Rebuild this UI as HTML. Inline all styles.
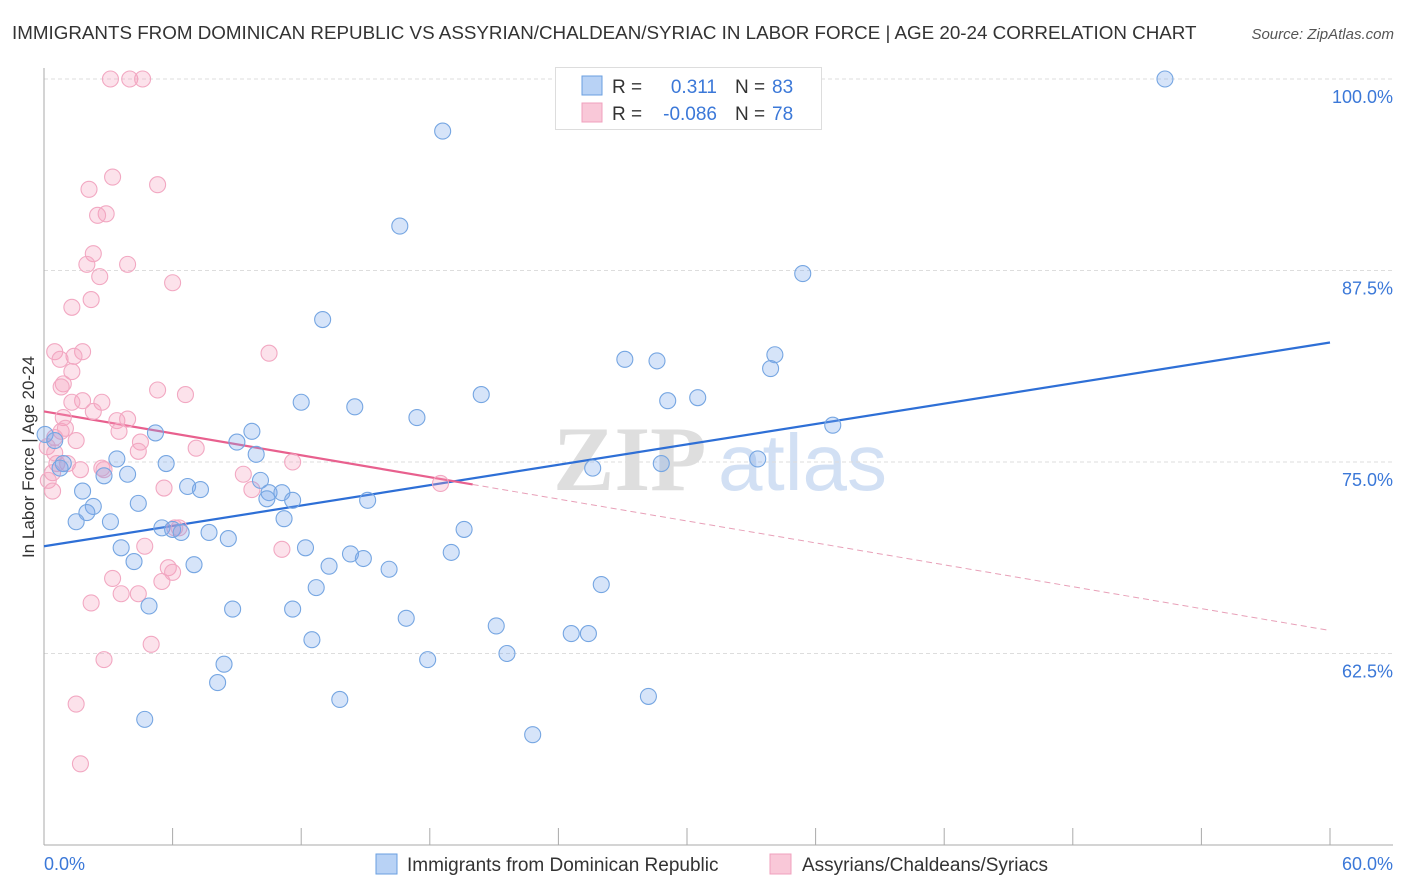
<!DOCTYPE html>
<html><head><meta charset="utf-8">
<style>
body{margin:0;background:#fff;font-family:"Liberation Sans",sans-serif;}
#wrap{position:relative;width:1406px;height:892px;overflow:hidden;}
</style></head>
<body>
<div id="wrap">
<svg id="svg" width="1406" height="892" xmlns="http://www.w3.org/2000/svg">
<text x="12" y="39" font-size="18.8" fill="#333">IMMIGRANTS FROM DOMINICAN REPUBLIC VS ASSYRIAN/CHALDEAN/SYRIAC IN LABOR FORCE | AGE 20-24 CORRELATION CHART</text>
<text x="1394" y="39" font-size="15" fill="#555" font-style="italic" text-anchor="end">Source: ZipAtlas.com</text>
<text x="34" y="457" font-size="17" fill="#333" text-anchor="middle" transform="rotate(-90 34 457)">In Labor Force | Age 20-24</text>
<g>
<text x="553" y="490" font-size="92" fill="#dedede" font-family="Liberation Serif,serif" font-weight="bold">ZIP</text>
<text x="718" y="490" font-size="80" fill="#d2e0f4">atlas</text>
</g>
<g id="grid"></g><g id="axes"></g><g id="lines"></g><g id="pts"></g>
<g>
<rect x="555.5" y="67.5" width="266" height="62" fill="#fff" stroke="#ddd"/>
<rect x="582" y="76" width="20" height="19" fill="#b8d2f5" stroke="#6a9fe0"/>
<rect x="582" y="103" width="20" height="19" fill="#f9c8d8" stroke="#f0a0be"/>
<text x="612" y="93" font-size="19" fill="#333">R =</text>
<text x="717" y="93" font-size="19" fill="#3b78d8" text-anchor="end">0.311</text>
<text x="735" y="93" font-size="19" fill="#333">N =</text>
<text x="772" y="93" font-size="19" fill="#3b78d8">83</text>
<text x="612" y="120" font-size="19" fill="#333">R =</text>
<text x="717" y="120" font-size="19" fill="#3b78d8" text-anchor="end">-0.086</text>
<text x="735" y="120" font-size="19" fill="#333">N =</text>
<text x="772" y="120" font-size="19" fill="#3b78d8">78</text>
</g>
<g>
<rect x="376" y="854" width="21" height="20" fill="#b8d2f5" stroke="#6a9fe0"/>
<text x="407" y="871" font-size="19" fill="#333">Immigrants from Dominican Republic</text>
<rect x="770" y="854" width="21" height="20" fill="#f9c8d8" stroke="#f0a0be"/>
<text x="802" y="871" font-size="19" fill="#333">Assyrians/Chaldeans/Syriacs</text>
</g>
</svg>
</div>
<script>
const blueX=[52.3,18.6,16.6,35.4,13.0,27.1,28.6,34.1,33.9,20.4,12.0,14.5,29.1,30.5,17.4,36.8,9.7,5.2,9.0,9.9,0.05,0.5,3.4,5.7,25.6,28.8,33.3,10.1,2.8,3.9,0.9,0.75,6.7,7.3,10.5,11.1,11.6,10.4,15.1,1.8,4.4,2.3,2.0,1.5,3.1,11.2,19.6,7.7,5.5,6.0,6.4,8.6,3.6,12.2,14.3,19.0,14.9,16.1,4.2,7.0,13.3,26.0,12.7,4.9,8.8,11.6,16.9,21.1,24.6,25.4,12.5,8.4,17.9,21.6,8.1,28.2,13.8,4.7,22.8];
const blueY=[100,96.6,90.4,87.3,84.3,81.7,81.6,82.0,81.1,79.4,78.9,78.6,79.0,79.2,77.9,77.4,77.0,76.9,76.3,75.5,76.8,76.4,75.2,74.9,74.6,74.9,75.2,73.8,74.1,74.2,74.9,74.6,73.4,73.2,73.0,73.0,72.5,72.6,72.5,73.1,72.3,72.1,71.7,71.1,71.1,71.3,70.6,70.4,70.7,70.6,70.4,70.0,69.4,69.4,69.0,69.1,68.7,68.0,68.5,68.3,68.2,67.0,66.8,65.6,65.4,65.4,64.8,64.3,63.8,63.8,63.4,61.8,62.1,62.5,60.6,59.7,59.5,58.2,57.2];
const pinkX=[3.1,4.0,4.6,3.2,5.3,2.1,2.9,2.5,2.3,2.0,3.9,2.6,6.0,2.2,1.3,1.8,0.5,10.5,1.4,0.75,1.3,0.9,0.8,5.3,6.6,1.8,2.7,1.3,2.3,0.9,3.4,3.9,0.8,1.0,3.5,0.5,1.5,4.5,7.1,4.4,0.15,1.1,0.6,11.6,2.7,9.3,1.7,0.4,0.2,2.8,18.5,5.6,9.7,0.4,6.3,6.1,4.7,11.1,5.8,6.0,3.2,5.5,3.6,4.4,2.2,5.0,2.8,1.5,1.7,0.5];
const pinkY=[100,100,100,93.6,93.1,92.8,91.2,91.1,88.6,87.9,87.9,87.1,86.7,85.6,85.1,82.2,82.2,82.1,81.9,81.7,80.9,80.1,79.9,79.7,79.4,79.0,78.9,78.9,78.3,77.9,77.7,77.8,77.0,77.2,77.0,76.6,76.4,76.3,75.9,75.7,76.0,74.9,74.9,75.0,74.6,74.2,74.5,74.3,73.8,74.5,73.6,73.3,73.2,73.1,70.7,70.7,69.5,69.3,68.1,67.8,67.4,67.2,66.4,66.4,65.8,63.1,62.1,59.2,55.3,75.6];
const blueTrend=[69.5,82.8];
const pinkTrend=[78.3,64.0];
const pinkSolidEnd=[20.0];
const yTicks=[62.5,75.0,87.5,100.0];
const xTickLabels=["0.0%","60.0%"];

const X0=44,X1=1330,YB=845;
const sx=v=>X0+(v/60)*(X1-X0);
const sy=v=>79+(100-v)*15.32;
const NS="http://www.w3.org/2000/svg";
function mk(tag,parent,attrs){const e=document.createElementNS(NS,tag);for(const k in attrs)e.setAttribute(k,attrs[k]);parent.appendChild(e);return e;}
const grid=document.getElementById('grid'),axes=document.getElementById('axes'),lines=document.getElementById('lines'),pts=document.getElementById('pts');
yTicks.forEach(t=>{
  const l=mk('line',grid,{x1:X0,x2:1393,y1:sy(t),y2:sy(t),stroke:'#ddd','stroke-dasharray':'4,3'});
  
  
  const tx=mk('text',grid,{x:1393,y:sy(t)+24,'font-size':18,fill:'#3b78d8','text-anchor':'end'});
  tx.textContent=t.toFixed(1)+'%';
  
  
});
const ya=mk('line',axes,{x1:X0,x2:X0,y1:68,y2:YB,stroke:'#aaa'});


const xa=mk('line',axes,{x1:X0,x2:1393,y1:YB,y2:YB,stroke:'#aaa'});


for(let i=0;i<=10;i++){
  const tk=mk('line',axes,{x1:sx(i*6),x2:sx(i*6),y1:828,y2:YB,stroke:'#aaa'});
  
  
}
[[0,'start',44],[60,'end',1393]].forEach((d,i)=>{
  const tx=mk('text',axes,{x:d[2],y:870,'font-size':18,fill:'#3b78d8','text-anchor':d[1]});
  tx.textContent=xTickLabels[i];
  
  
});
const pinkAt=x=>pinkTrend[0]+(pinkTrend[1]-pinkTrend[0])*x/60;
const bl=mk('line',lines,{x1:sx(0),y1:sy(blueTrend[0]),x2:sx(60),y2:sy(blueTrend[1]),stroke:'#2e6fd6','stroke-width':2.2});


const pl=mk('line',lines,{x1:sx(0),y1:sy(pinkAt(0)),x2:sx(pinkSolidEnd[0]),y2:sy(pinkAt(pinkSolidEnd[0])),stroke:'#e8608e','stroke-width':2.2});


const pd=mk('line',lines,{x1:sx(pinkSolidEnd[0]),y1:sy(pinkAt(pinkSolidEnd[0])),x2:sx(60),y2:sy(pinkAt(60)),stroke:'#e8a0b8','stroke-width':1,'stroke-dasharray':'6,4'});


pinkX.forEach((x,i)=>{
  const c=mk('circle',pts,{cx:sx(x),cy:sy(pinkY[i]),r:8,fill:'rgba(244,160,190,0.3)',stroke:'#f2a8c2','stroke-width':1.1});
  
  
});
blueX.forEach((x,i)=>{
  const c=mk('circle',pts,{cx:sx(x),cy:sy(blueY[i]),r:8,fill:'rgba(120,165,235,0.3)',stroke:'#76a6e2','stroke-width':1.1});
  
  
});
</script>
</body></html>
